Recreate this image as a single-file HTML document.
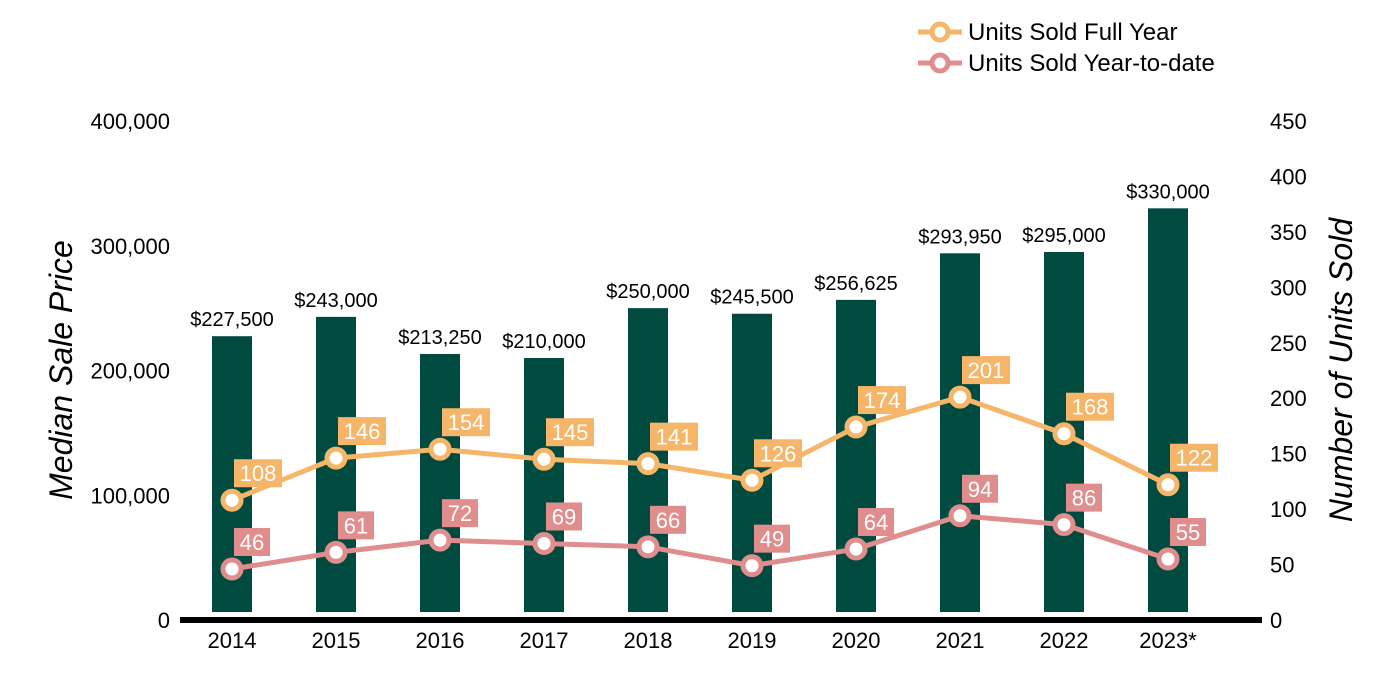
<!DOCTYPE html>
<html><head><meta charset="utf-8"><style>
body{margin:0;background:#fff}
svg{display:block;font-family:"Liberation Sans",Arial,sans-serif}
</style></head><body>
<svg id="c" width="1400" height="700"></svg>
<script>
const years=["2014","2015","2016","2017","2018","2019","2020","2021","2022","2023*"];
const prices=[227500,243000,213250,210000,250000,245500,256625,293950,295000,330000];
const priceLabels=["$227,500","$243,000","$213,250","$210,000","$250,000","$245,500","$256,625","$293,950","$295,000","$330,000"];
const fullYear=[108,146,154,145,141,126,174,201,168,122];
const ytd=[46,61,72,69,66,49,64,94,86,55];
const leftTicks=[0,100000,200000,300000,400000];
const rightTicks=[0,50,100,150,200,250,300,350,400,450];
const NS="http://www.w3.org/2000/svg",svg=document.getElementById('c');
const y0=620,yTop=121;
const yL=v=>y0-v/400000*(y0-yTop);
const yR=v=>y0-v/450*(y0-yTop);
const xC=i=>232+i*104;
function el(t,a,txt){const e=document.createElementNS(NS,t);for(const k in a)e.setAttribute(k,a[k]);if(txt!==undefined)e.textContent=txt;svg.appendChild(e);return e;}
leftTicks.forEach(v=>{const t=el('text',{x:170,y:yL(v)+8,'text-anchor':'end','font-size':22,fill:'#000'},v.toLocaleString('en-US'));

});
rightTicks.forEach(v=>{const t=el('text',{x:1270,y:yR(v)+8,'font-size':22,fill:'#000'},v);

});
let t=el('text',{x:0,y:0,transform:'translate(72,370) rotate(-90)','text-anchor':'middle','font-size':32,'font-style':'italic'},'Median Sale Price');

t=el('text',{x:0,y:0,transform:'translate(1352,370) rotate(-90)','text-anchor':'middle','font-size':32,'font-style':'italic'},'Number of Units Sold');

prices.forEach((p,i)=>{
 const b=el('rect',{x:xC(i)-20,y:yL(p),width:40,height:612-yL(p),fill:'#014a40'});
 
 
 const l=el('text',{x:xC(i),y:yL(p)-10,'text-anchor':'middle','font-size':20},priceLabels[i]);
 
 
 const yl=el('text',{x:xC(i),y:648,'text-anchor':'middle','font-size':22},years[i]);
 
 
});
const ax=el('rect',{x:180,y:617,width:1082,height:6,fill:'#000'});

function series(vals,color,name){
 const pl=el('polyline',{points:vals.map((v,i)=>xC(i)+','+yR(v)).join(' '),fill:'none',stroke:color,'stroke-width':5});
 
 
 vals.forEach((v,i)=>{
  const c=el('circle',{cx:xC(i),cy:yR(v),r:9,fill:'#fff',stroke:color,'stroke-width':5});
  
  
  const s=String(v),w=s.length*12+12;
  const r=el('rect',{x:xC(i)+2,y:yR(v)-41,width:w,height:28,fill:color});
  
  
  const tx=el('text',{x:xC(i)+2+w/2,y:yR(v)-19,'text-anchor':'middle','font-size':22,fill:'#fff'},s);
  
  
 });
}
series(fullYear,'#f6b66a','full-year');
series(ytd,'#e08d8d','ytd');
[["Units Sold Full Year",'#f6b66a',32],["Units Sold Year-to-date",'#e08d8d',63]].forEach(([lab,col,y])=>{
 const g1=el('line',{x1:918,y1:y,x2:962,y2:y,stroke:col,'stroke-width':5});
 
 
 const g2=el('circle',{cx:940,cy:y,r:8,fill:'#fff',stroke:col,'stroke-width':5});
 
 
 const g3=el('text',{x:968,y:y+8,'font-size':24},lab);
 
 
});
</script>
</body></html>
